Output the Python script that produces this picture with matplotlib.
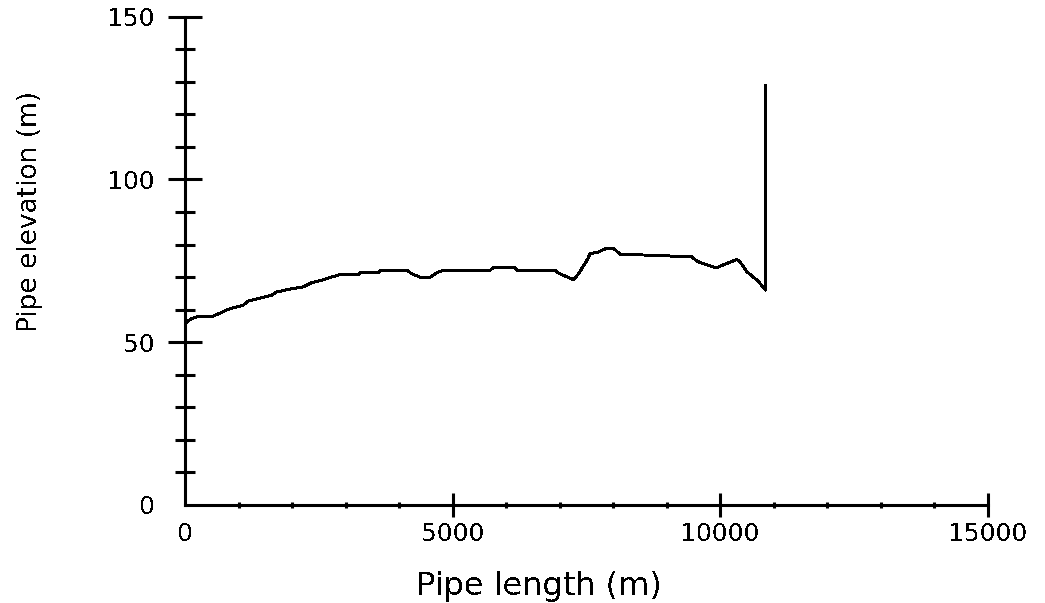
import matplotlib
matplotlib.use("Agg")
import matplotlib.pyplot as plt
from matplotlib.ticker import FixedLocator

# pipe profile
pipe_length = [0, 120, 280, 520, 710, 800, 1080, 1180, 1620, 1710, 1960, 2210,
               2370, 2590, 2740, 2900, 3240, 3270, 3620, 3650, 4140, 4240, 4390,
               4580, 4700, 4830, 5700, 5760, 6170, 6200, 6920, 6950, 7260, 7350,
               7510, 7570, 7720, 7880, 8000, 8130, 8720, 9470, 9570, 9930, 10060,
               10310, 10370, 10500, 10690, 10850, 10850]
pipe_elev = [55.7, 57.3, 58.0, 58.0, 59.3, 60.1, 61.3, 62.6, 64.4, 65.4, 66.3, 67.0,
             68.3, 69.2, 70.0, 70.8, 70.8, 71.3, 71.3, 72.1, 72.1, 71.0, 70.0,
             70.0, 71.3, 72.1, 72.1, 72.9, 72.8, 72.1, 72.1, 71.4, 69.2, 71.0,
             75.2, 77.2, 77.7, 78.9, 78.9, 77.0, 76.7, 76.2, 74.8, 72.8, 73.8,
             75.4, 74.6, 71.6, 69.0, 66.0, 129.0]

x_major = [0, 5000, 10000, 15000]
x_minor = [1000, 2000, 3000, 4000, 6000, 7000, 8000, 9000, 11000, 12000, 13000, 14000]
y_major = [0, 50, 100, 150]
y_minor = [10, 20, 30, 40, 60, 70, 80, 90, 110, 120, 130, 140]

plt.rcParams['text.antialiased'] = False

W, H = 1045, 603
fig = plt.figure(figsize=(W / 100, H / 100), dpi=100)
ax = fig.add_axes([185 / W, 98 / H, 803 / W, 488.4 / H])

ax.plot(pipe_length, pipe_elev, color='black', lw=1.4, antialiased=False)

ax.set_xlim(0, 15000)
ax.set_ylim(0, 150)
ax.xaxis.set_major_locator(FixedLocator(x_major))
ax.xaxis.set_minor_locator(FixedLocator(x_minor))
ax.yaxis.set_major_locator(FixedLocator(y_major))
ax.yaxis.set_minor_locator(FixedLocator(y_minor))
ax.set_xticklabels([str(v) for v in x_major])
ax.set_yticklabels([str(v) for v in y_major])

for s in ['top', 'right']:
    ax.spines[s].set_visible(False)
for s in ['left', 'bottom']:
    ax.spines[s].set_linewidth(2.2)
    ax.spines[s].set_color('black')

ax.tick_params(axis='y', which='major', direction='inout', length=25, width=2.2,
               pad=9, labelsize=18)
ax.tick_params(axis='y', which='minor', direction='inout', length=14, width=2.2)
ax.tick_params(axis='x', which='major', direction='inout', length=17, width=2.2,
               pad=4, labelsize=18)
ax.tick_params(axis='x', which='minor', direction='inout', length=5, width=2.2)

# no tick marks at the origin
ax.xaxis.get_major_ticks()[0].tick1line.set_visible(False)
ax.yaxis.get_major_ticks()[0].tick1line.set_visible(False)

fig.text(539 / W, 1 - 586 / H, 'Pipe length (m)', fontsize=23, ha='center', va='center')
fig.text(30 / W, 1 - 211 / H, 'Pipe elevation (m)', fontsize=19, rotation=90,
         ha='center', va='center')

fig.savefig('out.png', dpi=100, facecolor='white')
